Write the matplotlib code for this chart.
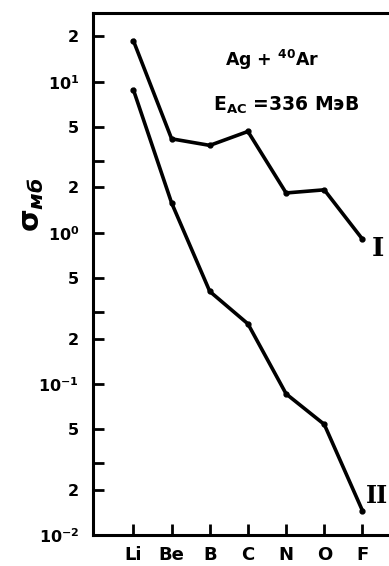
import matplotlib
matplotlib.use("Agg")
import matplotlib.pyplot as plt
from matplotlib.ticker import FixedLocator, NullLocator

elements = ["Li", "Be", "B", "C", "N", "O", "F"]
sigma_I = [18.7, 4.2, 3.8, 4.7, 1.84, 1.93, 0.91]
sigma_II = [8.85, 1.58, 0.41, 0.25, 0.086, 0.054, 0.0145]
ytick_vals = [0.01, 0.02, 0.03, 0.05, 0.1, 0.2, 0.3, 0.5, 1, 2, 3, 5, 10, 20]
ytick_labels = [r"$\mathbf{10^{-2}}$", "2", "", "5", r"$\mathbf{10^{-1}}$", "2", "", "5",
                r"$\mathbf{10^{0}}$", "2", "", "5", r"$\mathbf{10^{1}}$", "2"]

plt.rcParams['font.family'] = ['DejaVu Sans']
plt.rcParams['font.weight'] = 'bold'

fig = plt.figure(figsize=(3.89, 5.66), dpi=100)
ax = fig.add_axes([93/389, 31/566, 1.0 - 93/389 + 0.02, (535-13)/566])

x = list(range(len(elements)))
ax.plot(x, sigma_I, color='black', lw=2.6, marker='o', ms=3.5, solid_joinstyle='round')
ax.plot(x, sigma_II, color='black', lw=2.6, marker='o', ms=3.5, solid_joinstyle='round')

ax.set_yscale('log')
ax.set_ylim(0.01, 28.6)
ax.set_xlim(-1.06, 6.9)

ax.yaxis.set_major_locator(FixedLocator(ytick_vals))
ax.yaxis.set_minor_locator(NullLocator())
ax.set_yticklabels(ytick_labels)
ax.set_xticks(x)
ax.set_xticklabels(elements)

ax.tick_params(axis='both', direction='in', length=8, width=2)
ax.tick_params(axis='y', labelsize=11.5, pad=10)
ax.tick_params(axis='x', labelsize=13, pad=8)
for lab in ax.get_xticklabels() + ax.get_yticklabels():
    lab.set_fontweight('bold')

for s in ['left', 'bottom', 'top']:
    ax.spines[s].set_linewidth(2.2)
ax.spines['right'].set_visible(False)

fig.text(272/389, 1 - 60/566, r"Ag + $^{\mathbf{40}}$Ar", fontsize=12.5, fontweight='bold',
         ha='center', va='center')
fig.text(213/389, 1 - 105/566, r"E$_{\mathbf{AC}}$ =336 МэВ", fontsize=13.5, fontweight='bold',
         ha='left', va='center')
fig.text(378/389, 1 - 249/566, "I", fontsize=19, fontweight='bold', family='DejaVu Serif',
         ha='center', va='center')
fig.text(377/389, 1 - 496/566, "II", fontsize=17, fontweight='bold', family='DejaVu Serif',
         ha='center', va='center')
fig.text(32/389, 1 - 205/566, "σ$_{мб}$", fontsize=21, rotation=90,
         ha='center', va='center')

fig.savefig("out.png", dpi=100)
